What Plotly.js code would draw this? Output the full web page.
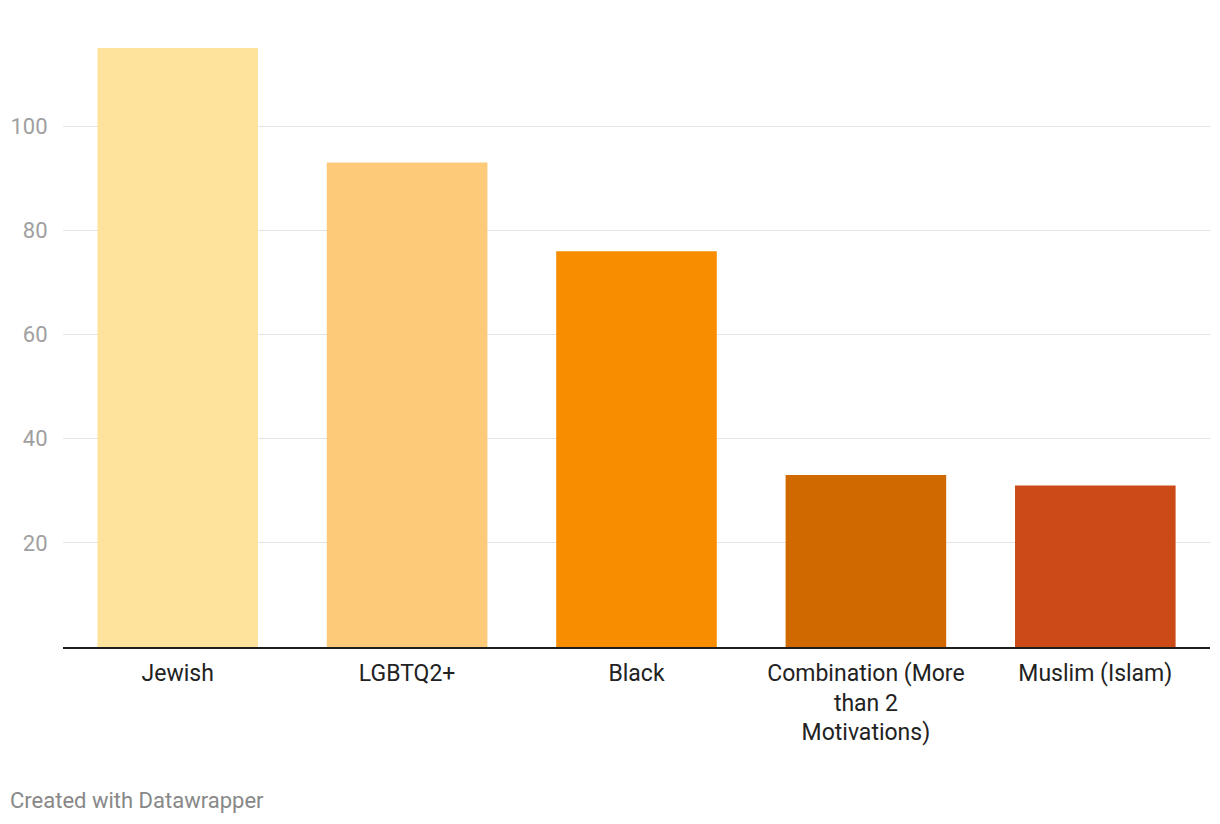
<!DOCTYPE html>
<html>
<head>
<meta charset="utf-8">
<script src="https://cdn.plot.ly/plotly-3.0.1.min.js"></script>
<style>
html,body{margin:0;padding:0;background:#fff;}
#chart{width:1220px;height:824px;}
</style>
</head>
<body>
<div id="chart"></div>
<script>
const categories = ["Jewish", "LGBTQ2+", "Black", "Combination (More<br>than 2<br>Motivations)", "Muslim (Islam)"];
const values = [115, 93, 76, 33, 31];
const barColors = ["#fee39c", "#fdca7a", "#f98d00", "#cf6900", "#cb4a18"];
const yTicks = [20, 40, 60, 80, 100];

const trace = {
  type: "bar",
  x: categories,
  y: values,
  marker: {color: barColors, line: {width: 0}},
  hoverinfo: "x+y"
};

const layout = {
  width: 1220,
  height: 824,
  margin: {l: 63, r: 10, t: 48, b: 177},
  paper_bgcolor: "#fff",
  plot_bgcolor: "#fff",
  bargap: 0.30,
  showlegend: false,
  font: {family: "Roboto, sans-serif"},
  xaxis: {
    type: "category",
    tickfont: {size: 23, color: "#222"},
    showgrid: false,
    showline: true,
    linecolor: "#1d1d1d",
    linewidth: 2,
    ticks: "outside",
    ticklen: 4,
    tickcolor: "rgba(0,0,0,0)",
    zeroline: false,
    fixedrange: true
  },
  yaxis: {
    range: [0, 115],
    tickvals: yTicks,
    ticktext: yTicks.map(String),
    tickfont: {size: 22, color: "#a0a0a0"},
    showgrid: true,
    gridcolor: "#e3e3e3",
    gridwidth: 1,
    zeroline: false,
    showline: false,
    ticks: "outside",
    ticklen: 10,
    tickcolor: "rgba(0,0,0,0)",
    fixedrange: true
  },
  annotations: [{
    text: "Created with Datawrapper",
    xref: "paper", yref: "paper",
    x: 0, y: 0,
    xanchor: "left", yanchor: "middle",
    xshift: -55, yshift: -153,
    showarrow: false,
    font: {size: 22, color: "#888"}
  }]
};

Plotly.newPlot("chart", [trace], layout, {displayModeBar: false, staticPlot: true});
</script>
</body>
</html>
